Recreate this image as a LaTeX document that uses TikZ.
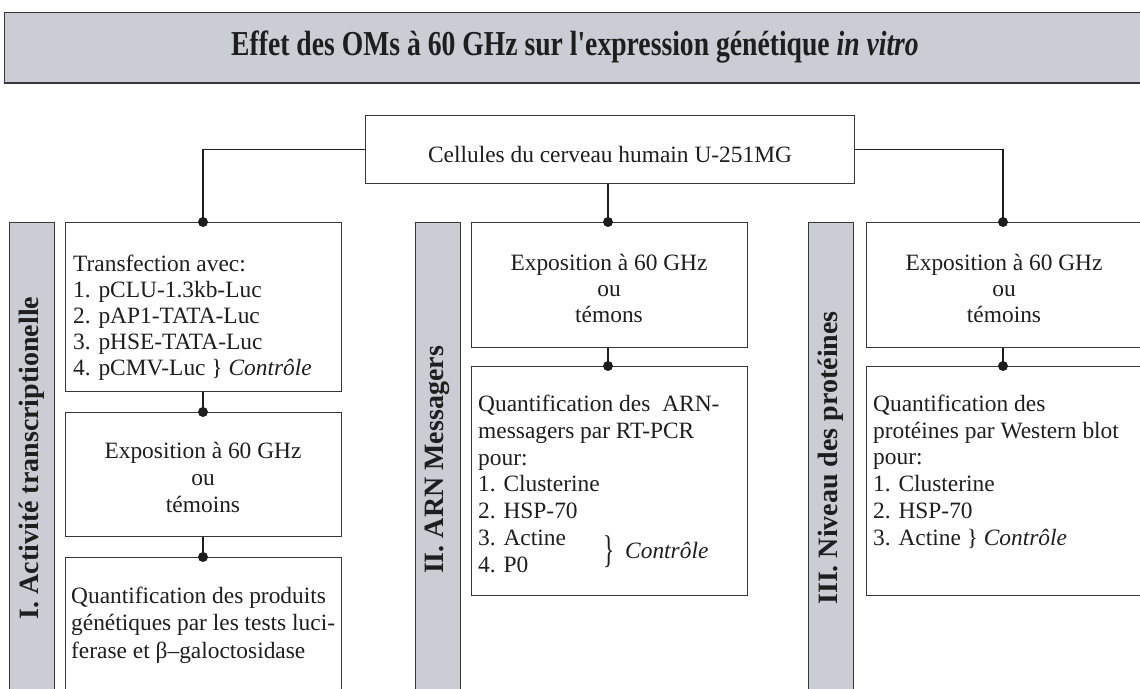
\documentclass[tikz,border=0pt]{standalone}
\usepackage{fontspec}
\setmainfont{Liberation Serif}
\definecolor{bandgray}{RGB}{202,205,212}
\definecolor{ink}{RGB}{30,30,30}
\definecolor{edge}{RGB}{55,55,55}
\begin{document}
\begin{tikzpicture}[x=1pt,y=-1pt,
  box/.style={draw=edge, line width=1.1pt, fill=white, anchor=north west, inner sep=0pt},
  bar/.style={draw=edge, line width=1.1pt, fill=bandgray, anchor=north west, inner sep=0pt},
  body/.style={font=\fontsize{23.4}{26}\selectfont, text=ink, inner sep=0pt},
  bartxt/.style={font=\fontsize{28}{30}\selectfont\bfseries, text=ink, rotate=90, inner sep=0pt},
  conn/.style={draw=ink, line width=1.3pt},
  dot/.style={circle, fill=ink, inner sep=0pt, minimum size=10pt}]
\useasboundingbox (0,0) rectangle (1140,688);
\clip (0,0) rectangle (1140,688);

% title band
\node[bar, minimum width=1150pt, minimum height=70pt] (band) at (4,12) {};
\draw[edge, line width=2pt] (band.south west) -- (band.south east);
\node[font=\fontsize{35}{38}\selectfont\bfseries, text=ink, inner sep=0pt] (title) at (575,47)
  {\scalebox{0.79}[1]{Effet des OMs à 60 GHz sur l\textquotesingle expression génétique \textit{in vitro}}};

% top box
\node[box, minimum width=489pt, minimum height=68pt] (top) at (365,115) {};
\node[body, anchor=base] (toptxt) at (610,162) {Cellules du cerveau humain U-251MG};

% side bars
\node[bar, minimum width=45pt, minimum height=490pt] (b1) at (9,222) {};
\node[bar, minimum width=45pt, minimum height=490pt] (b2) at (415,222) {};
\node[bar, minimum width=45pt, minimum height=490pt] (b3) at (808,222) {};
\node[bartxt] (b1t) at (31.5,458) {I. Activité transcriptionelle};
\node[bartxt] (b2t) at (437.5,460) {II. ARN Messagers};
\node[bartxt] (b3t) at (830.5,458) {III. Niveau des protéines};

% column boxes
\node[box, minimum width=276pt, minimum height=169pt] (t1) at (65,222) {};
\node[box, minimum width=276pt, minimum height=124pt] (e1) at (65,412) {};
\node[box, minimum width=276pt, minimum height=160pt] (q1) at (65,557) {};
\node[box, minimum width=276pt, minimum height=125pt] (e2) at (471,222) {};
\node[box, minimum width=276pt, minimum height=229pt] (q2) at (471,366) {};
\node[box, minimum width=300pt, minimum height=125pt] (e3) at (866,222) {};
\node[box, minimum width=300pt, minimum height=229pt] (q3) at (866,366) {};

% texts column 1 (base anchor = baseline of last line)
\node[body, anchor=base west, align=left] (t1t) at (73,375)
  {Transfection avec:\\1. pCLU-1.3kb-Luc\\2. pAP1-TATA-Luc\\3. pHSE-TATA-Luc\\4. pCMV-Luc \} \textit{Contrôle}};
\node[body, anchor=base, align=center, font=\fontsize{23.4}{27}\selectfont] (e1t) at (203,512)
  {Exposition à 60 GHz\\ou\\témoins};
\node[body, anchor=base west, align=left, font=\fontsize{23.4}{27.5}\selectfont] (q1t) at (71,658)
  {Quantification des produits\\génétiques par les tests luci-\\ferase et β–galoctosidase};

% texts column 2
\node[body, anchor=base, align=center] (e2t) at (609,322)
  {Exposition à 60 GHz\\ou\\témons};
\node[body, anchor=base west, align=left, font=\fontsize{23.4}{26.67}\selectfont] (q2t) at (478,572)
  {Quantification des\hspace{6pt} ARN-\\messagers par RT-PCR\\pour:\\1. Clusterine\\2. HSP-70\\3. Actine\\4. P0};
\node[body, font=\fontsize{23.4}{26}\selectfont] (br2) at (609,552) {\scalebox{1}[1.65]{\}}};
\node[body, anchor=base west] (c2) at (625,558) {\textit{Contrôle}};

% texts column 3
\node[body, anchor=base, align=center] (e3t) at (1004,322)
  {Exposition à 60 GHz\\ou\\témoins};
\node[body, anchor=base west, align=left, font=\fontsize{23.4}{26.67}\selectfont] (q3t) at (873,545)
  {Quantification des\\protéines par Western blot\\pour:\\1. Clusterine\\2. HSP-70\\3. Actine \} \textit{Contrôle}};

% connector dots
\coordinate (d1) at (203,222);
\coordinate (d2) at (608,222);
\coordinate (d3) at (1003,222);
\coordinate (d4) at (203,412);
\coordinate (d5) at (203,557);
\coordinate (d6) at (608,366);
\coordinate (d7) at (1003,366);

\draw[conn] (top.west) -| (d1);
\draw[conn] (top.east) -| (d3);
\draw[conn] (top.south -| d2) -- (d2);
\draw[conn] (t1.south -| d4) -- (d4);
\draw[conn] (e1.south -| d5) -- (d5);
\draw[conn] (e2.south -| d6) -- (d6);
\draw[conn] (e3.south -| d7) -- (d7);

\foreach \d in {d1,d2,d3,d4,d5,d6,d7}
  \node[dot] at (\d) {};
\end{tikzpicture}
\end{document}
